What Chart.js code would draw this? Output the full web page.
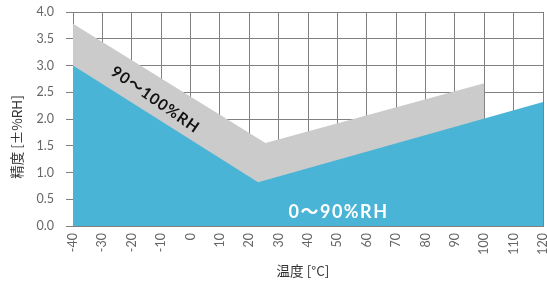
<!DOCTYPE html>
<html>
<head>
<meta charset="utf-8">
<script src="https://cdn.jsdelivr.net/npm/chart.js@4"></script>
<style>
html,body{margin:0;padding:0;background:#fff;}
#wrap{width:547px;height:282px;position:relative;}
</style>
</head>
<body>
<div id="wrap"><canvas id="c" width="547" height="282"></canvas></div>
<script>
// Temperatures (°C) and accuracy (±%RH)
const tempLow = [-40, 23, 120];       // 0～90%RH
const accLow  = [3.0, 0.82, 2.32];
const tempHigh = [-40, 25.5, 100];    // 90～100%RH
const accHigh  = [3.78, 1.55, 2.67];
const xTicks = [-40,-30,-20,-10,0,10,20,30,40,50,60,70,80,90,100,110,120];
const yTicks = [0,0.5,1,1.5,2,2.5,3,3.5,4];
const labelLow = "0～90%RH";
const labelHigh = "90～100%RH";
const xTitle = "温度 [°C]";
const yTitle = "精度 [±%RH]";

const toPts = (xs, ys) => xs.map((x,i)=>({x:x, y:ys[i]}));

const annot = {
  id:'annot',
  afterDraw(chart){
    const {ctx, scales:{x,y}} = chart;
    ctx.save();
    ctx.translate(x.getPixelForValue(-12), y.getPixelForValue(2.36));
    ctx.rotate(35*Math.PI/180);
    ctx.fillStyle='#111';
    ctx.font='bold 15.5px Lato, "Noto Sans CJK JP"';
    ctx.letterSpacing='1px';
    ctx.textAlign='center'; ctx.textBaseline='middle';
    ctx.fillText(labelHigh,0,0);
    ctx.restore();
    ctx.save();
    ctx.fillStyle='#fff';
    ctx.font='bold 18px Lato, "Noto Sans CJK JP"';
    ctx.letterSpacing='1.5px';
    ctx.textAlign='center'; ctx.textBaseline='middle';
    ctx.fillText(labelLow, x.getPixelForValue(50.4), y.getPixelForValue(0.26));
    ctx.restore();
    ctx.save();
    ctx.fillStyle='#333';
    ctx.font='13.5px "Noto Sans CJK JP", Lato';
    ctx.textAlign='center'; ctx.textBaseline='middle';
    ctx.fillText(xTitle, 303, 271);
    ctx.translate(17,137);
    ctx.rotate(-Math.PI/2);
    ctx.fillText(yTitle,0,0);
    ctx.restore();
  }
};

const zeroPad = s => { s.paddingLeft = 0; s.paddingRight = 0; s.paddingTop = 0; s.paddingBottom = 0; };

new Chart(document.getElementById('c'), {
  type:'line',
  data:{
    datasets:[
      {label:labelLow, data:toPts(tempLow,accLow), fill:'origin', backgroundColor:'#4ab4d6', borderWidth:0, pointRadius:0, order:0},
      {label:labelHigh, data:toPts(tempHigh,accHigh), fill:'origin', backgroundColor:'#cbcbcb', borderWidth:0, pointRadius:0, order:1}
    ]
  },
  options:{
    responsive:false, animation:false,
    layout:{padding:{top:12,right:4,left:0,bottom:0}},
    plugins:{legend:{display:false}, tooltip:{enabled:false}},
    scales:{
      x:{
        type:'linear', min:-40, max:120, z:1,
        afterBuildTicks(s){ s.ticks = xTicks.map(v=>({value:v})); },
        afterFit(s){ s.height = 56; zeroPad(s); },
        grid:{color:'#808080', lineWidth:1, drawTicks:false},
        border:{color:'#808080'},
        ticks:{autoSkip:false, minRotation:90, maxRotation:90, padding:7, color:'#666', font:{family:'Lato', size:12.5}}
      },
      y:{
        min:0, max:4, z:1,
        afterBuildTicks(s){ s.ticks = yTicks.map(v=>({value:v})); },
        afterFit(s){ s.width = 73; zeroPad(s); },
        grid:{color:'#808080', lineWidth:1, tickLength:7},
        border:{color:'#808080'},
        ticks:{padding:12, color:'#666', font:{family:'Lato', size:12.5}, callback:v=>v.toFixed(1)}
      }
    }
  },
  plugins:[annot]
});
</script>
</body>
</html>
